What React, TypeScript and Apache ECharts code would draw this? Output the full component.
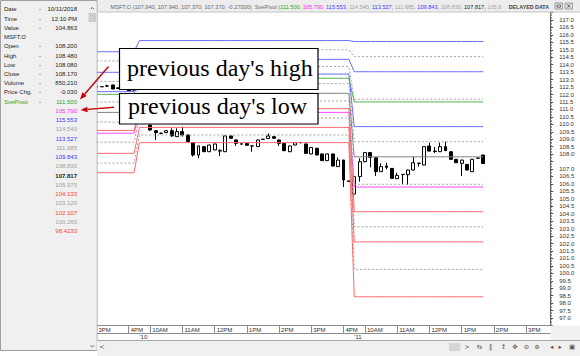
import React, { useEffect, useRef } from "react";
import * as echarts from "echarts";

const FONT = "Liberation Sans";
const SERIF = "Liberation Serif";

// ---------- x categories: 10-minute bars ----------
const sessionDays = ["9", "10", "11"];
const sessionStart = ["15:00", "09:40", "09:40"];
const sessionEnd = ["16:10", "16:10", "15:40"];

// ---------- candles [open, close, low, high] ----------
const candlesDay9 = [
  [112.55, 112.5, 112.45, 112.6],
  [112.52, 112.53, 112.5, 112.55],
  [112.56, 112.58, 112.5, 112.66],
  [112.64, 112.37, 112.35, 112.66],
  [112.4, 112.45, 112.38, 112.47],
  [112.45, 112.4, 112.35, 112.5],
  [112.3, 112.24, 112.22, 112.35],
  [112.28, 112.35, 112.25, 112.4],
];
const candlesDay10 = [
  [111.2, 110.6, 110.5, 111.5],
  [110.6, 110.1, 110.05, 110.8],
  [109.95, 109.62, 109.55, 110.0],
  [109.57, 109.44, 108.95, 109.6],
  [109.4, 109.39, 109.33, 109.45],
  [109.44, 109.57, 109.42, 109.62],
  [109.57, 109.22, 109.17, 109.73],
  [109.17, 109.51, 109.15, 109.73],
  [109.51, 109.28, 109.17, 109.84],
  [109.28, 108.84, 108.8, 109.3],
  [108.77, 107.94, 107.83, 108.8],
  [107.94, 108.55, 107.72, 108.56],
  [108.5, 108.16, 108.14, 108.52],
  [108.16, 108.61, 108.14, 108.63],
  [108.28, 108.68, 108.26, 108.7],
  [108.2, 108.26, 107.87, 108.3],
  [108.16, 109.22, 108.14, 109.25],
  [109.22, 109.06, 109.04, 109.24],
  [108.95, 108.72, 108.55, 108.97],
  [108.69, 108.67, 108.63, 108.72],
  [108.72, 108.59, 108.57, 108.74],
  [108.55, 108.54, 108.16, 108.57],
  [108.5, 108.95, 108.48, 108.97],
  [108.99, 109.0, 108.98, 109.01],
  [109.04, 109.22, 109.02, 109.39],
  [109.17, 109.06, 109.04, 109.19],
  [108.95, 108.72, 108.55, 108.97],
  [108.72, 108.23, 108.2, 108.74],
  [108.16, 108.55, 108.14, 108.57],
  [108.61, 108.77, 108.59, 108.8],
  [108.77, 108.78, 108.72, 108.82],
  [108.68, 108.05, 108.03, 108.72],
  [108.01, 108.45, 107.99, 108.47],
  [108.39, 107.94, 107.92, 108.42],
  [108.01, 107.56, 107.54, 108.03],
  [107.56, 108.01, 107.54, 108.03],
  [108.01, 107.2, 107.18, 108.03],
  [107.16, 107.6, 107.14, 107.78],
  [107.6, 106.26, 105.79, 107.62],
  [106.2, 106.16, 106.13, 106.22],
];
const candlesDay11 = [
  [105.32, 106.49, 105.14, 106.55],
  [106.49, 107.49, 106.15, 107.72],
  [107.49, 108.1, 107.45, 108.12],
  [108.1, 107.78, 107.11, 108.12],
  [107.76, 106.82, 106.53, 107.78],
  [106.82, 107.16, 106.8, 107.38],
  [107.2, 107.11, 106.98, 107.42],
  [107.04, 106.37, 106.35, 107.06],
  [106.35, 106.57, 106.33, 106.75],
  [106.63, 106.64, 105.99, 106.66],
  [106.62, 106.93, 105.93, 106.95],
  [106.93, 107.42, 106.9, 107.83],
  [107.38, 107.39, 107.16, 107.41],
  [107.27, 108.5, 107.25, 108.52],
  [108.54, 108.2, 108.18, 108.77],
  [108.2, 108.17, 108.08, 108.48],
  [108.16, 108.5, 108.14, 108.77],
  [108.5, 108.23, 108.21, 108.83],
  [108.16, 107.65, 107.63, 108.18],
  [107.65, 107.42, 107.4, 107.67],
  [107.38, 107.6, 106.53, 107.62],
  [107.31, 106.93, 106.91, 107.33],
  [106.82, 107.65, 106.8, 107.67],
  [107.72, 107.73, 107.7, 107.76],
  [107.94, 107.37, 107.37, 107.94],
];
const lastPrice = 107.37;

// ---------- SvePivot levels per day [day 9, day 10, day 11] ----------
const prevHigh = [112.01, 113.09, 111.5];
const prevLow = [109.4, 110.8, 105.79];
const r3 = [114.87, 115.62, 115.553];
const r3r2 = [114.25, 115.0, 114.54];
const r2 = [113.49, 114.36, 113.527];
const r2r1 = [112.88, 113.88, 111.685];
const r1 = [112.19, 113.37, 109.843];
const r1p = [111.5, 112.73, 108.83];
const pivot = [110.8, 112.08, 107.817];
const ps1 = [110.15, 111.57, 105.975];
const s1 = [109.59, 111.05, 104.133];
const s1s2 = [108.8, 110.42, 103.12];
const s2 = [108.05, 109.79, 102.107];
const s2s3 = [107.4, 109.28, 100.265];
const s3 = [106.75, 108.77, 98.4233];

// ---------- data window ----------
const dwLabels = ["Date", "Time", "Value", "MSFT.O", "Open", "High", "Low", "Close", "Volume", "Price Chg.", "SvePivot"];
const dwValues = ["10/11/2018", "12:10 PM", "104.863", "", "108.200", "108.480", "108.080", "108.170", "850,210", "-0.030"];
const titleOHLC = "MSFT.O (107.940, 107.940, 107.370, 107.370, -0.27000), SvePivot (";

const BLUE = "#6a6aff";
const RED = "#ff6a6a";
const MAGENTA = "#ff48ff";
const GREEN = "#52b152";
const PIVOTC = "#808080";
const MID = "#a0a0a0";

const TXT_BLUE = "#3a3aff";
const TXT_RED = "#ff3a3a";
const TXT_GRAY = "#a0a0a0";
const TXT_GREEN = "#2aa52a";
const TXT_MAG = "#ff2aff";
const TXT_DARK = "#222222";

const levelDefs = [
  { values: prevHigh, line: GREEN, text: TXT_GREEN, dotted: false },
  { values: prevLow, line: MAGENTA, text: TXT_MAG, dotted: false },
  { values: r3, line: BLUE, text: TXT_BLUE, dotted: false },
  { values: r3r2, line: MID, text: TXT_GRAY, dotted: true },
  { values: r2, line: BLUE, text: TXT_BLUE, dotted: false },
  { values: r2r1, line: MID, text: TXT_GRAY, dotted: true },
  { values: r1, line: BLUE, text: TXT_BLUE, dotted: false },
  { values: r1p, line: MID, text: TXT_GRAY, dotted: true },
  { values: pivot, line: PIVOTC, text: TXT_DARK, dotted: false },
  { values: ps1, line: MID, text: TXT_GRAY, dotted: true },
  { values: s1, line: RED, text: TXT_RED, dotted: false },
  { values: s1s2, line: MID, text: TXT_GRAY, dotted: true },
  { values: s2, line: RED, text: TXT_RED, dotted: false },
  { values: s2s3, line: MID, text: TXT_GRAY, dotted: true },
  { values: s3, line: RED, text: TXT_RED, dotted: false },
];

function buildCategories(): string[] {
  const out: string[] = [];
  sessionDays.forEach((d, k) => {
    const [sh, sm] = sessionStart[k].split(":").map(Number);
    const [eh, em] = sessionEnd[k].split(":").map(Number);
    for (let t = sh * 60 + sm; t <= eh * 60 + em; t += 10) {
      const h = Math.floor(t / 60);
      const m = t % 60;
      out.push(`${d}|${String(h).padStart(2, "0")}:${String(m).padStart(2, "0")}`);
    }
  });
  return out;
}

const fmtLevel = (v: number) => v.toPrecision(6);

export default function App() {
  const ref = useRef<HTMLDivElement>(null);

  useEffect(() => {
    if (!ref.current) return;
    const chart = echarts.init(ref.current, undefined, { renderer: "svg" });

    const categories = buildCategories();
    const dayCandles = [candlesDay9, candlesDay10, candlesDay11];
    const candles = ([] as number[][]).concat(...dayCandles);
    const dayOf: number[] = [];
    dayCandles.forEach((arr, k) => arr.forEach(() => dayOf.push(k)));

    const isHour = (i: number) => {
      const t = categories[i].split("|")[1];
      const h = Number(t.slice(0, 2));
      return t.endsWith(":00") && h >= 10 && h <= 16;
    };
    const isDayStart = (i: number) => i > 0 && categories[i].split("|")[0] !== categories[i - 1].split("|")[0];
    const hourLabel = (v: string) => {
      const h = Number(v.split("|")[1].slice(0, 2));
      return h < 12 ? `${h}AM` : h === 12 ? "12PM" : `${h - 12}PM`;
    };

    const lineSeries = levelDefs.map((d) => ({
      type: "line",
      data: dayOf.map((k) => d.values[k]),
      symbol: "none",
      silent: true,
      z: 3,
      lineStyle: { width: 1, color: d.line, type: d.dotted ? [2, 2] : "solid" },
    }));

    // ---------- graphics (panels, annotations) ----------
    const g: any[] = [];
    // title bar
    g.push({ type: "rect", z: 100, shape: { x: 97, y: 0, width: 483, height: 12 }, style: { fill: "#ededed" } });
    g.push({ type: "line", z: 101, shape: { x1: 97, y1: 12, x2: 580, y2: 12 }, style: { stroke: "#c4c4c4", lineWidth: 1 } });
    const TFS = 5.6;
    const rich: any = { a: { fill: "#6a6a6a", fontSize: TFS, fontFamily: FONT } };
    let titleText = `{a|${titleOHLC}}`;
    levelDefs.forEach((d, i) => {
      if (i > 9) return;
      rich["c" + i] = { fill: d.text, fontSize: TFS, fontFamily: FONT };
      const s = i === 9 ? fmtLevel(d.values[2]).slice(0, 5) : fmtLevel(d.values[2]) + ", ";
      titleText += `{c${i}|${s}}`;
    });
    g.push({ type: "text", z: 102, x: 110.5, y: 6.5, style: { text: titleText, rich, verticalAlign: "middle", fontSize: TFS, fontFamily: FONT } });
    g.push({ type: "text", z: 104, x: 549, y: 6.5, style: { text: "DELAYED DATA", fill: "#444", fontSize: 5.3, fontWeight: "bold", fontFamily: FONT, align: "right", verticalAlign: "middle" } });
    g.push({ type: "rect", z: 104, shape: { x: 555, y: 3, width: 7.5, height: 6 }, style: { fill: "#e2e2e2", stroke: "#8a8a8a", lineWidth: 0.8 } });
    g.push({ type: "rect", z: 104, shape: { x: 565, y: 3, width: 7.5, height: 6 }, style: { fill: "#e2e2e2", stroke: "#8a8a8a", lineWidth: 0.8 } });
    g.push({ type: "line", z: 105, shape: { x1: 567.3, y1: 4.5, x2: 570.2, y2: 7.5 }, style: { stroke: "#333", lineWidth: 0.8 } });
    g.push({ type: "line", z: 105, shape: { x1: 570.2, y1: 4.5, x2: 567.3, y2: 7.5 }, style: { stroke: "#333", lineWidth: 0.8 } });
    g.push({ type: "rect", z: 105, shape: { x: 557, y: 5, width: 3.5, height: 2.2 }, style: { fill: "none", stroke: "#444", lineWidth: 0.7 } });

    // left data-window panel
    g.push({ type: "rect", z: 100, shape: { x: 0.5, y: 0.5, width: 96.5, height: 350 }, style: { fill: "#f0f0f0", stroke: "#a0a0a0", lineWidth: 1 } });
    g.push({ type: "rect", z: 101, shape: { x: 88, y: 1, width: 8.5, height: 349 }, style: { fill: "#f0f0f0" } });
    g.push({ type: "rect", z: 102, shape: { x: 88.5, y: 13, width: 7.5, height: 9 }, style: { fill: "#cdcdcd" } });
    g.push({ type: "polyline", z: 102, shape: { points: [[90.6, 9.2], [92.3, 7.4], [94, 9.2]] }, style: { stroke: "#555", lineWidth: 0.9, fill: "none" } });
    g.push({ type: "polyline", z: 102, shape: { points: [[90.6, 345.3], [92.3, 347.1], [94, 345.3]] }, style: { stroke: "#555", lineWidth: 0.9, fill: "none" } });

    const rowY = (r: number) => 9.3 + r * 9.24;
    dwLabels.forEach((lab, r) => {
      const isPivot = lab === "SvePivot";
      g.push({ type: "text", z: 103, x: 4, y: rowY(r), style: { text: lab, fill: isPivot ? TXT_GREEN : TXT_DARK, fontSize: 6, fontFamily: FONT, verticalAlign: "middle" } });
      if (lab !== "MSFT.O") {
        g.push({ type: "text", z: 103, x: 39, y: rowY(r), style: { text: "-", fill: TXT_DARK, fontSize: 6, fontFamily: FONT, verticalAlign: "middle" } });
      }
      if (r < dwValues.length && dwValues[r]) {
        g.push({ type: "text", z: 103, x: 77, y: rowY(r), style: { text: dwValues[r], fill: TXT_DARK, fontSize: 6, fontFamily: FONT, align: "right", verticalAlign: "middle" } });
      }
    });
    levelDefs.forEach((d, i) => {
      const r = dwLabels.length - 1 + i;
      g.push({
        type: "text", z: 103, x: 77, y: rowY(r),
        style: { text: fmtLevel(d.values[2]), fill: d.text, fontSize: 6, fontFamily: FONT, fontWeight: d.text === TXT_DARK ? "bold" : "normal", align: "right", verticalAlign: "middle" },
      });
    });

    // bottom toolbar
    g.push({ type: "rect", z: 100, shape: { x: 551, y: 325.5, width: 29, height: 15 }, style: { fill: "#f0f0f0" } });
    g.push({ type: "rect", z: 100, shape: { x: 97, y: 340.5, width: 483, height: 15.5 }, style: { fill: "#f0f0f0" } });
    g.push({ type: "line", z: 101, shape: { x1: 97, y1: 340.5, x2: 580, y2: 340.5 }, style: { stroke: "#a8a8a8", lineWidth: 1 } });
    g.push({ type: "rect", z: 101, shape: { x: 449, y: 343, width: 11.5, height: 8 }, style: { fill: "#d6d6d6" } });
    const tools = [
      [102, "<"], [467, ">"], [479.5, "⇆"], [490.5, "‖"], [503.5, "↕"], [515, "✥"], [526.5, "⊖"], [537, "⊛"], [551.5, "◂"], [560, "▸"], [572, "▣"],
    ];
    tools.forEach(([x, t]) => {
      g.push({ type: "text", z: 102, x: x as number, y: 347, style: { text: t as string, fill: "#555", fontSize: 6.5, fontFamily: "DejaVu Sans", align: "center", verticalAlign: "middle" } });
    });

    // annotation boxes
    g.push({ type: "rect", z: 110, shape: { x: 119.5, y: 48.5, width: 198.5, height: 41 }, style: { fill: "#fff", stroke: "#000", lineWidth: 1.2 } });
    g.push({ type: "text", z: 111, x: 127, y: 68, style: { text: "previous day's high", fill: "#000", fontSize: 24, fontFamily: SERIF, verticalAlign: "middle" } });
    g.push({ type: "rect", z: 110, shape: { x: 119.5, y: 93.5, width: 198.5, height: 30.5 }, style: { fill: "#fff", stroke: "#000", lineWidth: 1.2 } });
    g.push({ type: "text", z: 111, x: 128, y: 105.5, style: { text: "previous day's low", fill: "#000", fontSize: 24, fontFamily: SERIF, verticalAlign: "middle" } });

    // arrows
    const arrow = (x1: number, y1: number, x2: number, y2: number) => {
      const dx = x2 - x1, dy = y2 - y1;
      const len = Math.hypot(dx, dy);
      const ux = dx / len, uy = dy / len;
      const bx = x2 - 7 * ux, by = y2 - 7 * uy;
      const px = -uy, py = ux;
      g.push({ type: "line", z: 120, shape: { x1, y1, x2: bx, y2: by }, style: { stroke: "#cc0000", lineWidth: 1.4 } });
      g.push({ type: "polygon", z: 120, shape: { points: [[x2, y2], [bx + 2.8 * px, by + 2.8 * py], [bx - 2.8 * px, by - 2.8 * py]] }, style: { fill: "#cc0000" } });
    };
    arrow(108.5, 66.5, 80, 99.5);
    arrow(114, 107.2, 80.5, 110);

    const option: any = {
      animation: false,
      backgroundColor: "#ffffff",
      textStyle: { fontFamily: FONT },
      grid: { left: 93.8, top: 12.55, width: 456.45, height: 312.9, containLabel: false, outerBoundsMode: "none" },
      xAxis: [
        {
          type: "category",
          data: categories,
          boundaryGap: true,
          position: "bottom",
          axisLine: { show: true, lineStyle: { color: "#8c8c8c", width: 1 } },
          axisTick: { show: true, alignWithLabel: true, interval: (i: number) => isHour(i), length: 7.5, lineStyle: { color: "#8c8c8c" } },
          axisLabel: { interval: (i: number) => isHour(i), formatter: hourLabel, align: "left", margin: 1.6, padding: [0, 0, 0, 2], fontSize: 6, color: "#333" },
          splitLine: { show: false },
        },
        {
          type: "category",
          data: categories,
          boundaryGap: true,
          position: "bottom",
          offset: 7.5,
          axisLine: { show: true, lineStyle: { color: "#8c8c8c", width: 1 } },
          axisTick: { show: false },
          axisLabel: { interval: (i: number) => isDayStart(i), formatter: (v: string) => "'" + v.split("|")[0], align: "left", margin: 1.2, fontSize: 6, color: "#333" },
          splitLine: { show: false },
        },
      ],
      yAxis: {
        type: "value",
        position: "right",
        min: 96.5,
        max: 117.5,
        interval: 0.5,
        axisLine: { show: true, lineStyle: { color: "#555" } },
        axisTick: { show: true, length: 3, lineStyle: { color: "#555" } },
        minorTick: { show: true, splitNumber: 5, length: 1.5, lineStyle: { color: "#777" } },
        axisLabel: {
          fontSize: 6, color: "#333", margin: 9, showMinLabel: false, showMaxLabel: false,
          // the last-price flag covers the label next to it
          formatter: (v: number) => (Math.abs(v - lastPrice) < 0.25 ? "" : v.toFixed(1)),
        },
        splitLine: { show: false },
      },
      series: [
        {
          type: "candlestick",
          data: candles,
          barWidth: 3.4,
          z: 2,
          itemStyle: { color: "#ffffff", color0: "#000000", borderColor: "#000000", borderColor0: "#000000", borderWidth: 1 },
          markLine: {
            symbol: "none",
            silent: true,
            animation: false,
            lineStyle: { opacity: 0 },
            data: [{ yAxis: lastPrice }],
            label: { show: true, position: "end", formatter: lastPrice.toFixed(4), color: "#ff2a2a", backgroundColor: "#000", fontSize: 6, padding: [1.5, 2, 1, 2], distance: 2 },
          },
        },
        ...lineSeries,
      ],
      graphic: { elements: g },
    };

    chart.setOption(option);
    return () => chart.dispose();
  }, []);

  return <div ref={ref} style={{ position: "fixed", left: 0, top: 0, width: 580, height: 356, background: "#fff" }} />;
}
